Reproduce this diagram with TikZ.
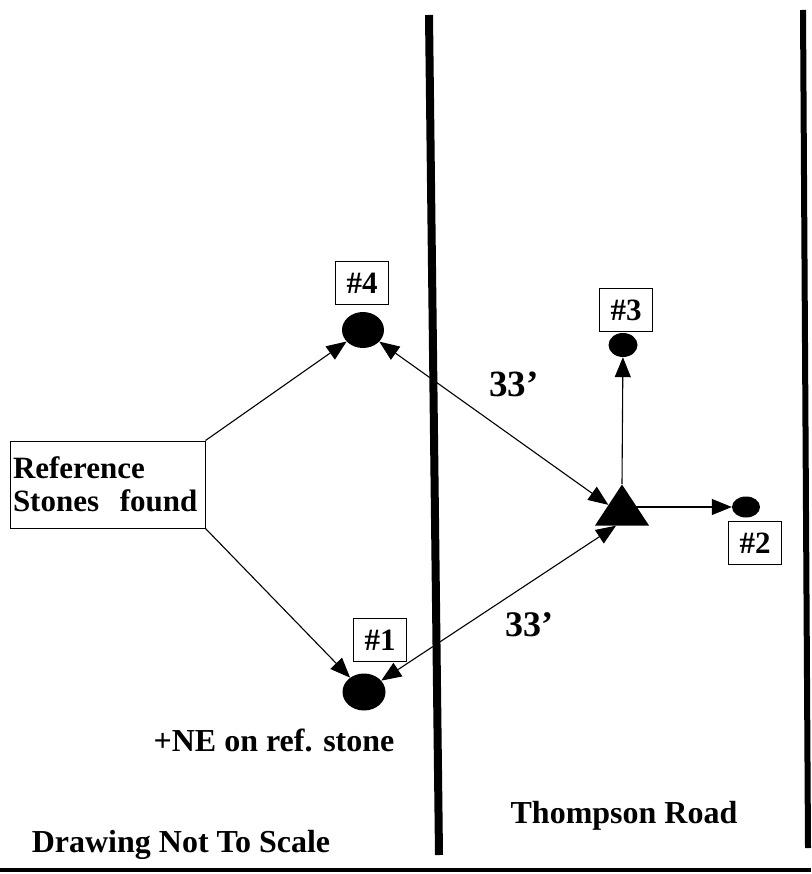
\documentclass[tikz,border=0pt]{standalone}
\usepackage{fontspec}
\setmainfont{Liberation Serif}
\usetikzlibrary{arrows.meta,positioning,shapes.geometric}

\begin{document}
\begin{tikzpicture}[x=1pt,y=-1pt,
    road/.style={line width=#1},
    tag/.style={draw,line width=1pt,minimum width=53pt,minimum height=43pt,inner sep=0pt,
      font=\fontsize{31}{34}\selectfont\bfseries},
    stone/.style={ellipse,fill=black,inner sep=0pt},
    station/.style={isosceles triangle,isosceles triangle stretches,shape border rotate=90,
      fill=black,minimum width=54pt,minimum height=41pt,inner sep=0pt},
    link/.style={line width=1.1pt,-{Triangle[length=20pt,width=16pt]}},
    both/.style={line width=1.1pt,{Triangle[length=20pt,width=16pt]}-{Triangle[length=20pt,width=16pt]}},
    lbl/.style={font=\fontsize{32}{36}\selectfont\bfseries}]
  \useasboundingbox (0,0) rectangle (811,874);
  % roads and frame
  \draw[road=8pt] (429,15) -- (439,855);
  \draw[road=6pt] (803,10) -- (808,848);
  \draw[road=4pt] (0,870) -- (811,870);
  % stones
  \node[stone,minimum width=42pt,minimum height=36pt] (four) at (363,330) {};
  \node[stone,minimum width=43pt,minimum height=37pt] (one) at (364,692) {};
  \node[stone,minimum width=29pt,minimum height=24pt] (three) at (623,345) {};
  \node[stone,minimum width=28pt,minimum height=21pt] (two) at (746,507) {};
  \node[station,anchor=apex] (sta) at (622,484) {};
  % tags
  \node[tag] (tfour) at (362,283) {\#4};
  \node[tag] (tthree) at (626,310) {\#3};
  \node[tag] (ttwo) at (755,543) {\#2};
  \node[tag] (tone) at (380,640) {\#1};
  \node[draw,line width=1pt,minimum width=195pt,minimum height=87pt,text width=189pt,
    inner xsep=3pt,align=left,font=\fontsize{31}{33}\selectfont\bfseries] (ref)
    at (107.5,484.5) {Reference\\Stones~ found};
  % connectors
  \draw[link] (ref.north east) -- (four);
  \draw[link] (ref.south east) -- (one);
  \draw[both] (four) -- (sta.left side);
  \draw[both] (one) -- ([xshift=-6pt]sta.lower side);
  \draw[link] (sta.apex) -- (three);
  \draw[link] (sta |- two) -- (two);
  % labels
  \node[lbl,font=\fontsize{37}{40}\selectfont\bfseries] (dup) at (514,384) {33'};
  \node[lbl,font=\fontsize{36}{40}\selectfont\bfseries] (dlow) at (529,625) {33'};
  \node[lbl] (note) at (274,740) {+NE on ref. stone};
  \node[lbl] (road) at (624,816) {Thompson Road};
  \node[lbl] (scale) at (181,845) {Drawing Not To Scale};
\end{tikzpicture}
\end{document}
